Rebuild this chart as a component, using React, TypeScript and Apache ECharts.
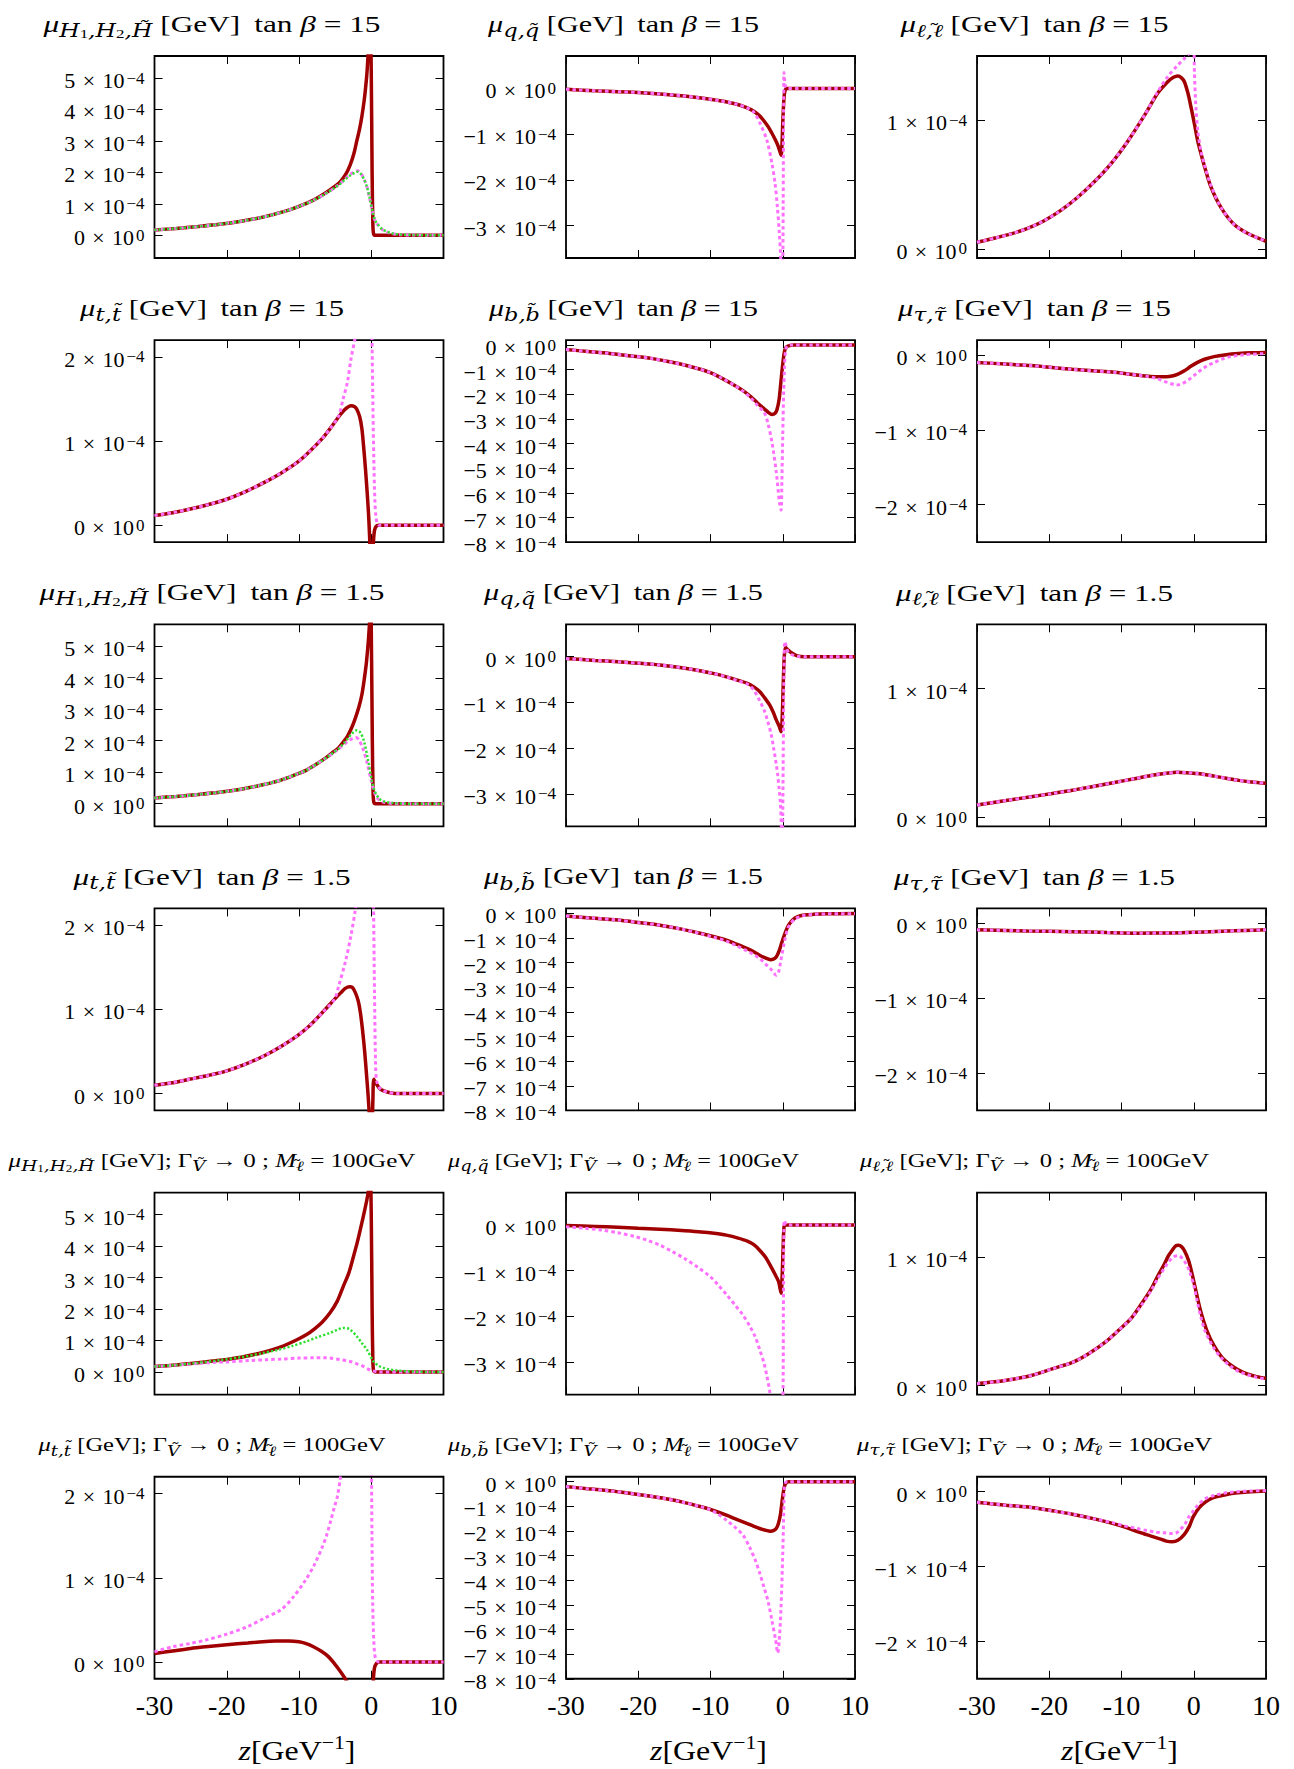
import React, { useEffect, useRef } from 'react';
import * as echarts from 'echarts';

type Pt = [number, number];

const FONT = "'Liberation Serif', 'DejaVu Serif', serif";
const SUBFONT = "'DejaVu Serif', 'Liberation Serif', serif";

// ---------- axes ----------
const X_MIN = -30;
const X_MAX = 10;
const X_STEP = 10;
const Y_EXP = '\u22124'; // values below are in units of 10^-4 GeV

const Y_RANGE: Record<string, [number, number]> = {
  H: [-0.72, 5.7],
  Q: [-3.71, 0.71],
  L: [-0.07, 1.5],
  T: [-0.2, 2.2],
  B: [-8, 0.2],
  TAU: [-2.5, 0.2],
};
const Y_TICKS: Record<string, number[]> = {
  H: [0, 1, 2, 3, 4, 5],
  Q: [0, -1, -2, -3],
  L: [0, 1],
  T: [0, 1, 2],
  B: [0, -1, -2, -3, -4, -5, -6, -7, -8],
  TAU: [0, -1, -2],
};

const ROW_KINDS = [
  ['H', 'Q', 'L'],
  ['T', 'B', 'TAU'],
  ['H', 'Q', 'L'],
  ['T', 'B', 'TAU'],
  ['H', 'Q', 'L'],
  ['T', 'B', 'TAU'],
];
const ROW_VARIANT = ['15', '15', '1.5', '1.5', 'G0', 'G0'];

// ---------- data: tan(beta) = 15 ----------
const h15Red: Pt[] = [[-30,0.17],[-27,0.22],[-24,0.28],[-21,0.35],[-18,0.45],[-15,0.58],[-12,0.76],[-10,0.92],[-8,1.12],[-6.5,1.32],[-5,1.56],[-4.3,1.7],[-3.5,1.95],[-2.9,2.25],[-2.4,2.6],[-2,3.0],[-1.6,3.4],[-1.3,3.78],[-1,4.25],[-0.8,4.65],[-0.6,5.15],[-0.45,5.7],[-0.3,6.4],[-0.15,7.2],[0,5.2],[0.12,2.0],[0.22,0.4],[0.32,0.05],[0.6,0],[10,0]];
const h15Pink: Pt[] = [[-30,0.17],[-27,0.22],[-24,0.28],[-21,0.35],[-18,0.45],[-15,0.58],[-12,0.76],[-10,0.92],[-8,1.11],[-6.5,1.3],[-5,1.52],[-4.3,1.65],[-3.5,1.82],[-2.9,1.94],[-2.3,2.02],[-1.9,2.05],[-1.4,1.96],[-1,1.79],[-0.6,1.54],[-0.15,1.1],[0.3,0.62],[0.6,0.44],[1,0.31],[1.5,0.19],[2.2,0.1],[3,0.05],[4,0.02],[6,0.01],[10,0]];
const h15Green: Pt[] = [[-30,0.17],[-27,0.22],[-24,0.28],[-21,0.35],[-18,0.45],[-15,0.58],[-12,0.76],[-10,0.92],[-8,1.11],[-6.5,1.3],[-5,1.52],[-4.3,1.64],[-3.5,1.8],[-2.9,1.91],[-2.3,1.99],[-1.9,2.02],[-1.4,1.94],[-1,1.78],[-0.6,1.54],[-0.15,1.12],[0.3,0.64],[0.6,0.45],[1,0.32],[1.5,0.2],[2.2,0.11],[3,0.06],[4,0.03],[6,0.01],[10,0]];

const q15Red: Pt[] = [[-30,-0.02],[-26,-0.05],[-22.8,-0.07],[-20,-0.09],[-17,-0.12],[-14,-0.16],[-11.3,-0.21],[-8.7,-0.27],[-6.5,-0.34],[-5,-0.42],[-4,-0.5],[-3.2,-0.6],[-2.7,-0.69],[-2,-0.84],[-1.5,-0.98],[-1.1,-1.1],[-0.8,-1.2],[-0.6,-1.28],[-0.4,-1.38],[-0.22,-1.46],[-0.1,-1.2],[0,-0.76],[0.1,-0.4],[0.21,-0.15],[0.35,-0.03],[0.5,0],[10,0]];
const q15Pink: Pt[] = [[-30,-0.02],[-26,-0.05],[-22.8,-0.07],[-20,-0.09],[-17,-0.12],[-14,-0.16],[-11.3,-0.21],[-8.7,-0.27],[-6.5,-0.34],[-5,-0.42],[-4,-0.52],[-3.15,-0.76],[-2.2,-1.13],[-1.5,-1.64],[-1.07,-2.07],[-0.75,-2.58],[-0.47,-3.17],[-0.29,-3.7],[-0.18,-4.5],[-0.08,-7],[0,-4.5],[0.06,-2.5],[0.12,-0.5],[0.17,0.35],[0.25,0.2],[0.35,0.06],[0.6,0],[10,0]];

const l15Red: Pt[] = [[-30,0.052],[-27.5,0.085],[-25.3,0.117],[-23,0.16],[-20.7,0.22],[-18.4,0.3],[-16.1,0.4],[-13.8,0.52],[-11.5,0.66],[-9.1,0.84],[-6.8,1.04],[-5,1.21],[-3.6,1.3],[-2.8,1.335],[-2.2,1.345],[-1.7,1.33],[-1.3,1.3],[-0.8,1.21],[-0.37,1.1],[0.1,0.97],[0.55,0.84],[1,0.74],[1.5,0.64],[2.4,0.48],[3.8,0.32],[5.6,0.19],[7.5,0.12],[10,0.06]];
const l15Pink: Pt[] = [[-30,0.052],[-27.5,0.085],[-25.3,0.117],[-23,0.16],[-20.7,0.22],[-18.4,0.3],[-16.1,0.4],[-13.8,0.52],[-11.5,0.66],[-9.1,0.84],[-6.8,1.04],[-5,1.22],[-3.6,1.34],[-2.2,1.43],[-1.3,1.48],[-0.6,1.53],[-0.3,1.75],[-0.05,1.75],[0.1,1.36],[0.3,1.1],[0.55,0.92],[1,0.76],[1.5,0.65],[2.4,0.49],[3.8,0.32],[5.6,0.19],[7.5,0.12],[10,0.06]];

const t15Red: Pt[] = [[-30,0.115],[-27.5,0.15],[-25.2,0.19],[-22.6,0.245],[-20,0.31],[-17.4,0.4],[-14.8,0.51],[-12.5,0.62],[-10.2,0.75],[-8.5,0.88],[-6.8,1.03],[-5.6,1.16],[-4.5,1.29],[-3.6,1.38],[-2.8,1.42],[-2.3,1.41],[-2,1.38],[-1.6,1.29],[-1.3,1.15],[-1.05,0.93],[-0.8,0.67],[-0.55,0.37],[-0.34,0.08],[-0.15,-0.3],[0,-0.6],[0.15,-0.45],[0.3,-0.2],[0.45,-0.06],[0.7,-0.01],[1,0],[10,0]];
const t15Pink: Pt[] = [[-30,0.115],[-27.5,0.15],[-25.2,0.19],[-22.6,0.245],[-20,0.31],[-17.4,0.4],[-14.8,0.51],[-12.5,0.62],[-10.2,0.75],[-8.5,0.88],[-6.8,1.03],[-5.6,1.16],[-4.5,1.3],[-3.9,1.5],[-3.3,1.7],[-2.8,1.98],[-2.2,2.25],[-1.5,2.8],[-0.5,4],[0,4],[0.08,2.5],[0.2,1.6],[0.35,0.8],[0.5,0.3],[0.65,0.1],[0.85,0.02],[1.1,0],[10,0]];

const b15Red: Pt[] = [[-30,-0.18],[-27,-0.26],[-24,-0.34],[-21,-0.44],[-18.2,-0.54],[-15.5,-0.69],[-13.6,-0.81],[-11.8,-0.95],[-10.1,-1.11],[-8.4,-1.35],[-6.7,-1.63],[-5.5,-1.85],[-4.4,-2.1],[-3.5,-2.35],[-2.6,-2.58],[-2,-2.73],[-1.5,-2.82],[-1.1,-2.78],[-0.8,-2.62],[-0.5,-2.2],[-0.3,-1.63],[-0.05,-0.9],[0.23,-0.27],[0.5,-0.08],[0.8,-0.03],[1.5,0],[10,0]];
const b15Pink: Pt[] = [[-30,-0.18],[-27,-0.26],[-24,-0.34],[-21,-0.44],[-18.2,-0.54],[-15.5,-0.69],[-13.6,-0.81],[-11.8,-0.95],[-10.1,-1.11],[-8.4,-1.35],[-6.7,-1.63],[-5.5,-1.87],[-4.4,-2.15],[-3.5,-2.45],[-2.6,-2.72],[-2.1,-3.12],[-1.5,-3.93],[-0.9,-5.15],[-0.46,-6.37],[-0.23,-6.7],[-0.12,-5.5],[0,-3.66],[0.12,-2],[0.23,-0.95],[0.4,-0.2],[0.6,-0.04],[1,0],[10,0]];

const tau15Red: Pt[] = [[-30,-0.098],[-26,-0.12],[-22.5,-0.14],[-19.6,-0.165],[-16.8,-0.19],[-14,-0.21],[-11,-0.23],[-9.3,-0.25],[-7.6,-0.27],[-6,-0.285],[-4.7,-0.29],[-3.8,-0.29],[-3,-0.28],[-2.1,-0.25],[-1.3,-0.21],[-0.4,-0.15],[0.46,-0.1],[1.5,-0.055],[2.8,-0.02],[4.5,0.005],[6.2,0.02],[8,0.03],[10,0.035]];
const tau15Pink: Pt[] = [[-30,-0.098],[-26,-0.12],[-22.5,-0.14],[-19.6,-0.165],[-16.8,-0.19],[-14,-0.21],[-11,-0.23],[-9.3,-0.25],[-7.6,-0.27],[-6.4,-0.285],[-5.2,-0.31],[-4.1,-0.35],[-3.2,-0.38],[-2.4,-0.4],[-1.6,-0.38],[-0.7,-0.33],[0.2,-0.26],[1,-0.2],[1.9,-0.14],[2.8,-0.1],[4,-0.05],[5.1,-0.02],[7,0.005],[10,0.02]];

// ---------- data: tan(beta) = 1.5 ----------
const h1p5Red: Pt[] = [[-30,0.18],[-27,0.23],[-24,0.29],[-21,0.36],[-18,0.46],[-15,0.6],[-12.5,0.75],[-10.5,0.92],[-9.1,1.05],[-7.5,1.27],[-6.2,1.47],[-5.2,1.65],[-4.5,1.78],[-3.8,1.98],[-3.3,2.14],[-2.7,2.42],[-2.2,2.72],[-1.7,3.08],[-1.3,3.46],[-1,3.9],[-0.7,4.42],[-0.5,4.9],[-0.34,5.37],[-0.2,5.9],[-0.08,6.5],[0.05,4.5],[0.15,2],[0.25,0.4],[0.35,0.05],[0.6,0],[10,0]];
const h1p5Pink: Pt[] = [[-30,0.18],[-27,0.23],[-24,0.29],[-21,0.36],[-18,0.46],[-15,0.6],[-12.5,0.75],[-10.5,0.92],[-9.1,1.05],[-7.5,1.27],[-6.2,1.46],[-5.2,1.62],[-4.5,1.74],[-3.8,1.88],[-3.2,1.99],[-2.6,2.07],[-2.1,2.1],[-1.7,2.02],[-1.2,1.78],[-0.6,1.32],[0,0.72],[0.4,0.4],[0.7,0.22],[1.2,0.1],[1.8,0.04],[3,0.01],[5,0],[10,0]];
const h1p5Green: Pt[] = [[-30,0.18],[-27,0.23],[-24,0.29],[-21,0.36],[-18,0.46],[-15,0.6],[-12.5,0.75],[-10.5,0.92],[-9.1,1.05],[-7.5,1.27],[-6.2,1.46],[-5.2,1.63],[-4.5,1.75],[-3.8,1.92],[-3.2,2.08],[-2.6,2.24],[-2,2.33],[-1.5,2.26],[-1,1.98],[-0.5,1.45],[0.1,0.71],[0.4,0.45],[0.7,0.29],[1.2,0.14],[1.8,0.07],[3,0.02],[5,0],[10,0]];

const q1p5Red: Pt[] = [[-30,-0.04],[-26,-0.08],[-22.8,-0.11],[-20,-0.14],[-17,-0.18],[-14,-0.24],[-11.3,-0.31],[-9.5,-0.37],[-7.8,-0.44],[-6.3,-0.51],[-4.9,-0.58],[-4,-0.66],[-3.2,-0.76],[-2.5,-0.9],[-1.8,-1.06],[-1.3,-1.22],[-0.9,-1.38],[-0.5,-1.52],[-0.23,-1.64],[-0.08,-1.35],[0.05,-0.7],[0.15,-0.2],[0.25,0.08],[0.4,0.2],[0.6,0.17],[1.1,0.1],[2,0.02],[3,0],[10,0]];
const q1p5Pink: Pt[] = [[-30,-0.04],[-26,-0.08],[-22.8,-0.11],[-20,-0.14],[-17,-0.18],[-14,-0.24],[-11.3,-0.31],[-9.5,-0.37],[-7.8,-0.44],[-6.3,-0.52],[-4.9,-0.6],[-4,-0.73],[-3.2,-0.96],[-2.5,-1.2],[-2.07,-1.42],[-1.6,-1.7],[-1.26,-2],[-0.9,-2.35],[-0.69,-2.59],[-0.5,-2.9],[-0.34,-3.17],[-0.2,-3.69],[-0.1,-5],[0,-3.5],[0.1,-1.5],[0.2,0],[0.3,0.33],[0.45,0.25],[0.7,0.12],[1.2,0.05],[2,0.01],[3,0],[10,0]];

const l1p5Red: Pt[] = [[-30,0.096],[-26,0.13],[-22.5,0.16],[-19.6,0.185],[-16.8,0.21],[-13.9,0.24],[-11,0.27],[-8.2,0.3],[-5.3,0.33],[-3.5,0.345],[-2.3,0.35],[-1,0.347],[0.5,0.34],[2.8,0.32],[4.5,0.303],[6.2,0.287],[8,0.275],[10,0.265]];
const l1p5Pink: Pt[] = [[-30,0.096],[-26,0.13],[-22.5,0.16],[-19.6,0.185],[-16.8,0.21],[-13.9,0.24],[-11,0.27],[-8.2,0.3],[-5.3,0.33],[-3.5,0.345],[-2.3,0.35],[-1,0.347],[0.5,0.34],[2.8,0.32],[4.5,0.303],[6.2,0.287],[8,0.275],[10,0.265]];

const t1p5Red: Pt[] = [[-30,0.1],[-27.5,0.13],[-25.2,0.17],[-22.6,0.215],[-20,0.27],[-17.4,0.35],[-14.8,0.45],[-12.5,0.56],[-10.2,0.69],[-8.5,0.81],[-6.8,0.96],[-5.1,1.12],[-4.2,1.2],[-3.6,1.25],[-3,1.27],[-2.6,1.26],[-2.2,1.2],[-1.8,1.1],[-1.5,0.96],[-1.2,0.75],[-0.9,0.49],[-0.65,0.22],[-0.46,0.01],[-0.3,-0.2],[-0.1,-0.5],[0.1,-0.45],[0.22,-0.1],[0.35,0.17],[0.6,0.13],[1.3,0.05],[2.2,0.02],[3.6,0],[10,0]];
const t1p5Pink: Pt[] = [[-30,0.1],[-27.5,0.13],[-25.2,0.17],[-22.6,0.215],[-20,0.27],[-17.4,0.35],[-14.8,0.45],[-12.5,0.56],[-10.2,0.69],[-8.5,0.81],[-6.8,0.96],[-5.1,1.12],[-4.5,1.28],[-3.6,1.56],[-2.8,1.88],[-2.2,2.19],[-1.6,2.6],[-0.5,3.5],[0.2,3.5],[0.3,2.4],[0.45,1.2],[0.6,0.35],[0.75,0.15],[1.3,0.05],[2.2,0.02],[3.6,0],[10,0]];

const b1p5Red: Pt[] = [[-30,-0.11],[-26.5,-0.19],[-22.8,-0.27],[-20,-0.37],[-17,-0.48],[-14,-0.64],[-11.3,-0.82],[-9.5,-0.95],[-7.8,-1.09],[-6.3,-1.26],[-4.9,-1.43],[-4,-1.56],[-3.2,-1.7],[-2.4,-1.81],[-1.7,-1.88],[-1.3,-1.86],[-0.9,-1.77],[-0.5,-1.52],[-0.1,-1.15],[0.35,-0.78],[0.8,-0.48],[1.4,-0.26],[2,-0.14],[3,-0.07],[4.25,-0.04],[6,-0.02],[10,-0.01]];
const b1p5Pink: Pt[] = [[-30,-0.11],[-26.5,-0.19],[-22.8,-0.27],[-20,-0.37],[-17,-0.48],[-14,-0.64],[-11.3,-0.83],[-9.5,-0.97],[-7.8,-1.13],[-6.3,-1.33],[-4.9,-1.53],[-4,-1.68],[-3.2,-1.83],[-2.3,-2.08],[-1.5,-2.31],[-0.9,-2.51],[-0.6,-2.4],[-0.3,-1.97],[0.23,-1.15],[0.7,-0.6],[1.1,-0.41],[1.7,-0.22],[2.4,-0.14],[3,-0.08],[4.25,-0.04],[6,-0.02],[10,-0.01]];

const tau1p5Red: Pt[] = [[-30,-0.085],[-23,-0.1],[-16.8,-0.11],[-12,-0.122],[-7.6,-0.13],[-3,-0.128],[0.5,-0.118],[4,-0.105],[7,-0.094],[10,-0.085]];
const tau1p5Pink: Pt[] = [[-30,-0.085],[-23,-0.1],[-16.8,-0.11],[-12,-0.122],[-7.6,-0.13],[-3,-0.128],[0.5,-0.118],[4,-0.105],[7,-0.094],[10,-0.085]];

// ---------- data: Gamma_V -> 0, M = 100 GeV ----------
const hG0Red: Pt[] = [[-30,0.17],[-27,0.22],[-24,0.29],[-21,0.37],[-18,0.47],[-15,0.62],[-12.5,0.8],[-10.5,1.0],[-9,1.18],[-7.8,1.38],[-6.8,1.58],[-5.7,1.88],[-4.7,2.25],[-3.87,2.72],[-3.1,3.15],[-2.46,3.67],[-1.9,4.15],[-1.3,4.74],[-0.9,5.15],[-0.6,5.48],[-0.36,5.8],[-0.15,6.5],[0,5],[0.12,2],[0.22,0.4],[0.32,0.05],[0.6,0],[10,0]];
const hG0Pink: Pt[] = [[-30,0.17],[-27,0.22],[-24,0.27],[-22,0.3],[-20,0.32],[-17,0.36],[-14.5,0.39],[-12.5,0.41],[-10,0.44],[-8,0.45],[-6.5,0.45],[-5.7,0.44],[-4.3,0.39],[-2.9,0.33],[-1.9,0.25],[-1.1,0.18],[-0.5,0.1],[0,0.05],[0.5,0.02],[1,0],[10,0]];
const hG0Green: Pt[] = [[-30,0.17],[-27,0.22],[-24,0.29],[-21,0.37],[-18,0.47],[-15,0.6],[-13,0.7],[-11,0.82],[-9,0.97],[-7.5,1.1],[-5.7,1.24],[-4.8,1.33],[-3.87,1.4],[-3,1.36],[-2,1.13],[-1.3,0.92],[-0.6,0.71],[0.3,0.34],[1,0.2],[1.7,0.13],[2.5,0.08],[3.5,0.05],[5,0.02],[8.1,0],[10,0]];

const qG0Red: Pt[] = [[-30,-0.01],[-26,-0.03],[-22.8,-0.05],[-20,-0.07],[-17,-0.09],[-14,-0.12],[-11.3,-0.15],[-9.5,-0.18],[-7.8,-0.22],[-6.3,-0.28],[-4.9,-0.35],[-4,-0.43],[-3.2,-0.55],[-2.4,-0.7],[-1.5,-0.95],[-1,-1.1],[-0.57,-1.24],[-0.23,-1.49],[-0.08,-1.1],[0.05,-0.5],[0.15,-0.1],[0.3,0],[10,0]];
const qG0Pink: Pt[] = [[-30,-0.04],[-27.5,-0.07],[-25,-0.11],[-22.8,-0.17],[-20.5,-0.25],[-18.8,-0.33],[-17,-0.44],[-15.3,-0.58],[-13.6,-0.73],[-11.8,-0.92],[-10.1,-1.12],[-9,-1.3],[-7.8,-1.52],[-6.6,-1.75],[-5.5,-1.97],[-4.6,-2.2],[-3.8,-2.45],[-3.2,-2.72],[-2.6,-3.02],[-2.2,-3.3],[-1.8,-3.64],[-1.4,-4.2],[-0.6,-6],[0,-4],[0.1,-1.5],[0.2,0.1],[0.35,0.05],[0.6,0],[10,0]];

const lG0Red: Pt[] = [[-30,0.015],[-27.5,0.03],[-25,0.05],[-22.5,0.078],[-19.6,0.13],[-16.8,0.18],[-14.5,0.25],[-12.2,0.34],[-10.4,0.43],[-8.7,0.52],[-7.3,0.63],[-5.9,0.75],[-5,0.85],[-4.1,0.94],[-3.5,1.01],[-3,1.05],[-2.5,1.085],[-2.1,1.09],[-1.7,1.08],[-1.3,1.05],[-0.7,0.97],[-0.2,0.86],[0.4,0.71],[1,0.57],[1.8,0.43],[2.8,0.31],[3.9,0.22],[5.1,0.16],[6.2,0.12],[7.4,0.09],[8.7,0.07],[10,0.057]];
const lG0Pink: Pt[] = [[-30,0.015],[-27.5,0.03],[-25,0.05],[-22.5,0.078],[-19.6,0.13],[-16.8,0.18],[-14.5,0.25],[-12.2,0.34],[-10.4,0.43],[-8.7,0.52],[-7.3,0.62],[-5.9,0.74],[-5,0.83],[-4.1,0.91],[-3.5,0.96],[-2.8,1.0],[-2.1,1.01],[-1.6,0.99],[-1.1,0.95],[-0.6,0.89],[0,0.78],[0.46,0.66],[1,0.53],[1.6,0.42],[2.8,0.29],[3.9,0.21],[5.1,0.15],[6.2,0.11],[7.4,0.085],[8.7,0.065],[10,0.05]];

const tG0Red: Pt[] = [[-30,0.1],[-27.5,0.13],[-25,0.16],[-22.9,0.18],[-20,0.205],[-17.1,0.225],[-15,0.24],[-13.2,0.248],[-11.4,0.25],[-10,0.24],[-9.1,0.22],[-8,0.18],[-6.8,0.12],[-5.9,0.06],[-5.1,-0.02],[-4.3,-0.11],[-3.6,-0.2],[-3,-0.3],[-2,-0.5],[-1,-0.6],[0,-0.6],[0.2,-0.45],[0.3,-0.2],[0.45,-0.07],[0.7,-0.02],[1.1,0],[10,0]];
const tG0Pink: Pt[] = [[-30,0.12],[-27.5,0.18],[-25,0.22],[-22.9,0.26],[-20,0.33],[-17.1,0.42],[-14.8,0.52],[-12.5,0.62],[-10.8,0.77],[-9.1,0.97],[-7.9,1.15],[-6.8,1.36],[-6.2,1.5],[-5.6,1.68],[-5.1,1.84],[-4.7,1.96],[-4.3,2.17],[-3.8,2.5],[-2,3],[-0.2,3],[0,2.5],[0.1,1.5],[0.2,0.7],[0.35,0.25],[0.5,0.08],[0.7,0.02],[1,0],[10,0]];

const bG0Red: Pt[] = [[-30,-0.2],[-27,-0.29],[-24,-0.37],[-21,-0.48],[-18.5,-0.58],[-17,-0.65],[-14,-0.82],[-11.3,-1.02],[-9.5,-1.18],[-7.8,-1.36],[-6.3,-1.54],[-4.9,-1.7],[-4,-1.81],[-3.2,-1.9],[-2.4,-1.97],[-1.7,-2.01],[-1.3,-1.99],[-0.9,-1.9],[-0.6,-1.7],[-0.3,-1.29],[-0.05,-0.7],[0.23,-0.2],[0.5,-0.04],[0.8,0],[10,0]];
const bG0Pink: Pt[] = [[-30,-0.2],[-27,-0.29],[-24,-0.37],[-21,-0.48],[-18.5,-0.58],[-17,-0.65],[-14,-0.82],[-11.3,-1.02],[-10.1,-1.13],[-8.9,-1.33],[-7.8,-1.56],[-6.6,-1.85],[-5.5,-2.17],[-4.6,-2.65],[-3.8,-3.19],[-3.2,-3.7],[-2.6,-4.28],[-2,-4.9],[-1.5,-5.64],[-1,-6.4],[-0.69,-6.95],[-0.5,-6.5],[-0.25,-5.2],[0,-2.92],[0.12,-1.5],[0.23,-0.2],[0.35,-0.05],[0.6,0],[10,0]];

const tauG0Red: Pt[] = [[-30,-0.14],[-26,-0.18],[-22.5,-0.21],[-19.6,-0.255],[-16.8,-0.3],[-13.9,-0.36],[-11,-0.43],[-9.3,-0.48],[-7.6,-0.54],[-6,-0.59],[-4.7,-0.63],[-3.8,-0.66],[-3,-0.67],[-2.2,-0.65],[-1.3,-0.57],[-0.6,-0.46],[-0.1,-0.34],[0.7,-0.22],[1.6,-0.14],[2.7,-0.08],[3.9,-0.05],[5.5,-0.02],[7.4,-0.005],[10,0.01]];
const tauG0Pink: Pt[] = [[-30,-0.14],[-26,-0.18],[-22.5,-0.21],[-19.6,-0.255],[-16.8,-0.3],[-13.9,-0.36],[-11,-0.42],[-9.9,-0.45],[-8,-0.49],[-6.4,-0.52],[-5.2,-0.54],[-4.1,-0.55],[-3,-0.56],[-2.4,-0.55],[-1.8,-0.5],[-1.2,-0.43],[-0.7,-0.34],[0,-0.25],[0.46,-0.19],[1.5,-0.1],[2.8,-0.05],[4.5,-0.015],[6,0],[8,0.01],[10,0.015]];

type PanelData = { red: Pt[]; pink: Pt[]; green?: Pt[] };
const PANELS: PanelData[][] = [
  [{ red: h15Red, pink: h15Pink, green: h15Green }, { red: q15Red, pink: q15Pink }, { red: l15Red, pink: l15Pink }],
  [{ red: t15Red, pink: t15Pink }, { red: b15Red, pink: b15Pink }, { red: tau15Red, pink: tau15Pink }],
  [{ red: h1p5Red, pink: h1p5Pink, green: h1p5Green }, { red: q1p5Red, pink: q1p5Pink }, { red: l1p5Red, pink: l1p5Pink }],
  [{ red: t1p5Red, pink: t1p5Pink }, { red: b1p5Red, pink: b1p5Pink }, { red: tau1p5Red, pink: tau1p5Pink }],
  [{ red: hG0Red, pink: hG0Pink, green: hG0Green }, { red: qG0Red, pink: qG0Pink }, { red: lG0Red, pink: lG0Pink }],
  [{ red: tG0Red, pink: tG0Pink }, { red: bG0Red, pink: bG0Pink }, { red: tauG0Red, pink: tauG0Pink }],
];

// ---------- title texts ----------
// {tl|...} is a zero-width tilde token drawn over the following letter
const ELL_TILDE = '{tl|\u200a\u02dc}{s|\u2113}';
const SUB: Record<string, string> = {
  H: '{s|H}{ss|1}{s|,H}{ss|2}{s|,H\u0303}',
  Q: '{s|q,q\u0303}',
  L: `{s|\u2113,}${ELL_TILDE}`,
  T: '{s|t,t\u0303}',
  B: '{s|b,b\u0303}',
  TAU: '{s|\u03c4,\u03c4\u0303}',
};
function titleText(kind: string, variant: string): string {
  if (variant === 'G0') {
    return `{m|\u03bc}${SUB[kind]}{r| [GeV]; \u0393}{s|V\u0303}{r| \u2192 0 ; }{m|M}${ELL_TILDE}{r| = 100GeV}`;
  }
  return `{m|\u03bc}${SUB[kind]}{r| [GeV] \u2009tan }{m|\u03b2}{r| = ${variant}}`;
}
const X_NAME = '{m|z}{r|[GeV}{p|\u22121}{r|]}';

// ---------- layout ----------
const W = 1294;
const H = 1769;
const GRID_LEFT = [154.5, 566, 977];
const GRID_W = 289;
const GRID_H = 202;
const GRID_TOP0 = 56;
const ROW_STEP = 284.15;
const TITLE_DX = 57.5;
const TITLE_Y0 = 24;
const TITLE_W = [[337, 271, 268], [264, 269, 273], [345, 279, 277], [277, 279, 281], [407, 351, 349], [347, 351, 355]];
const XNAME_Y = 1750;
const XNAME_W = 117;

const RED = '#a00000';
const PINK = '#ff70ff';
const GREEN = '#30e030';

function titleRich(big: boolean) {
  const F = big ? 24 : 19;
  const LH = big ? 32 : 26;
  const S = big ? 18 : 14;
  const SS = big ? 13 : 10;
  const raise = big ? 11 : 9;
  return {
    m: { font: `italic ${F}px ${FONT}`, lineHeight: LH, fill: '#000' },
    r: { font: `${F}px ${FONT}`, lineHeight: LH, fill: '#000' },
    s: { font: `italic ${S}px ${SUBFONT}`, lineHeight: S, verticalAlign: 'bottom', fill: '#000' },
    tl: { font: `${S}px ${SUBFONT}`, width: 0, lineHeight: S + raise, verticalAlign: 'bottom', fill: '#000' },
    ss: { font: `${SS}px ${FONT}`, lineHeight: big ? 9 : 7, verticalAlign: 'bottom', fill: '#000' },
  };
}
const NAME_RICH = {
  m: { font: `italic 28px ${FONT}`, lineHeight: 34, fill: '#000' },
  r: { font: `28px ${FONT}`, lineHeight: 34, fill: '#000' },
  p: { font: `19px ${FONT}`, lineHeight: 19, verticalAlign: 'top', fill: '#000' },
};

function textWidth(text: string, rich: any, font: string): number {
  try {
    const El: any = (echarts.graphic as any).Text;
    const el = new El({ style: { text, rich, font } });
    const w = el.getBoundingRect().width;
    return w > 0 ? w : 0;
  } catch (e) {
    return 0;
  }
}

function yLabel(v: number): string {
  if (v === 0) return '{b|0\u2004\u00d7\u200410}{s|0}';
  const sign = v < 0 ? '\u2212' : '';
  return `{b|${sign}${Math.abs(v)}\u2004\u00d7\u200410}{s|${Y_EXP}}`;
}

function buildOption() {
  const grid: any[] = [];
  const xAxis: any[] = [];
  const yAxis: any[] = [];
  const series: any[] = [];
  const graphic: any[] = [];

  ROW_KINDS.forEach((kinds, r) => {
    kinds.forEach((kind, c) => {
      const i = r * 3 + c;
      const top = GRID_TOP0 + ROW_STEP * r;
      grid.push({
        left: GRID_LEFT[c], top, width: GRID_W, height: GRID_H,
        show: true, borderColor: '#000', borderWidth: 1.8, backgroundColor: 'transparent',
      });
      const tick = { show: true, inside: true, length: 8, lineStyle: { color: '#000', width: 1 } };
      const bottomRow = r === ROW_KINDS.length - 1;
      ['bottom', 'top'].forEach((pos) => {
        xAxis.push({
          type: 'value', gridIndex: i, position: pos, min: X_MIN, max: X_MAX, interval: X_STEP,
          axisLine: { show: false, onZero: false }, splitLine: { show: false },
          axisTick: tick,
          axisLabel: {
            show: pos === 'bottom' && bottomRow,
            fontFamily: FONT, fontSize: 28, color: '#000', margin: 13,
            showMinLabel: true, showMaxLabel: true,
            formatter: (v: number) => String(v),
          },
        });
      });
      const [ymin, ymax] = Y_RANGE[kind];
      const ticks = Y_TICKS[kind];
      ['left', 'right'].forEach((pos) => {
        yAxis.push({
          type: 'value', gridIndex: i, position: pos, min: ymin, max: ymax,
          axisLine: { show: false, onZero: false }, splitLine: { show: false },
          axisTick: { ...tick, customValues: ticks },
          axisLabel: {
            show: pos === 'left',
            customValues: ticks,
            margin: 10,
            padding: [5, 0, 0, 0],
            formatter: yLabel,
            rich: {
              b: { fontFamily: FONT, fontSize: 22, lineHeight: 22, color: '#000' },
              s: { fontFamily: FONT, fontSize: 17, lineHeight: 4, verticalAlign: 'top', color: '#000', padding: [0, 0, 0, 2] },
            },
          },
        });
      });
      const pd = PANELS[r][c];
      const base = { type: 'line', xAxisIndex: 2 * i, yAxisIndex: 2 * i, showSymbol: false, symbol: 'none', smooth: 0.3, silent: true, clip: true };
      series.push({ ...base, name: `red-${i}`, data: pd.red, z: 2, lineStyle: { color: RED, width: 3.5 } });
      series.push({ ...base, name: `pink-${i}`, data: pd.pink, z: 3, lineStyle: { color: PINK, width: 3, type: [3.5, 3], cap: 'butt' } });
      if (pd.green) {
        series.push({ ...base, name: `green-${i}`, data: pd.green, z: 4, lineStyle: { color: GREEN, width: 2.5, type: [2.2, 2], cap: 'butt' } });
      }

      // panel title
      const big = ROW_VARIANT[r] !== 'G0';
      const rich = titleRich(big);
      const text = titleText(kind, ROW_VARIANT[r]);
      const font = `${big ? 24 : 19}px ${FONT}`;
      const w = textWidth(text, rich, font);
      const sx = w > 0 ? Math.min(1.5, Math.max(0.8, TITLE_W[r][c] / w)) : 1.2;
      graphic.push({
        type: 'text', x: GRID_LEFT[c] + TITLE_DX, y: TITLE_Y0 + ROW_STEP * r, scaleX: sx, silent: true,
        style: { text, rich, font, fill: '#000', textAlign: 'center', textVerticalAlign: 'middle' },
      });

      if (bottomRow) {
        const nfont = `28px ${FONT}`;
        const nw = textWidth(X_NAME, NAME_RICH, nfont);
        const nsx = nw > 0 ? Math.min(1.4, Math.max(0.8, XNAME_W / nw)) : 1.1;
        graphic.push({
          type: 'text', x: GRID_LEFT[c] + GRID_W / 2 - 2, y: XNAME_Y, scaleX: nsx, silent: true,
          style: { text: X_NAME, rich: NAME_RICH, font: nfont, fill: '#000', textAlign: 'center', textVerticalAlign: 'middle' },
        });
      }
    });
  });

  return {
    animation: false,
    backgroundColor: '#ffffff',
    grid, xAxis, yAxis, series, graphic,
  };
}

export default function App() {
  const ref = useRef<HTMLDivElement>(null);
  useEffect(() => {
    if (!ref.current) return;
    const chart = echarts.init(ref.current, undefined, { renderer: 'svg', width: W, height: H });
    chart.setOption(buildOption() as any);
    return () => chart.dispose();
  }, []);
  return (
    <div
      ref={ref}
      style={{ position: 'absolute', left: 0, top: 0, width: W, height: H, background: '#fff' }}
    />
  );
}
